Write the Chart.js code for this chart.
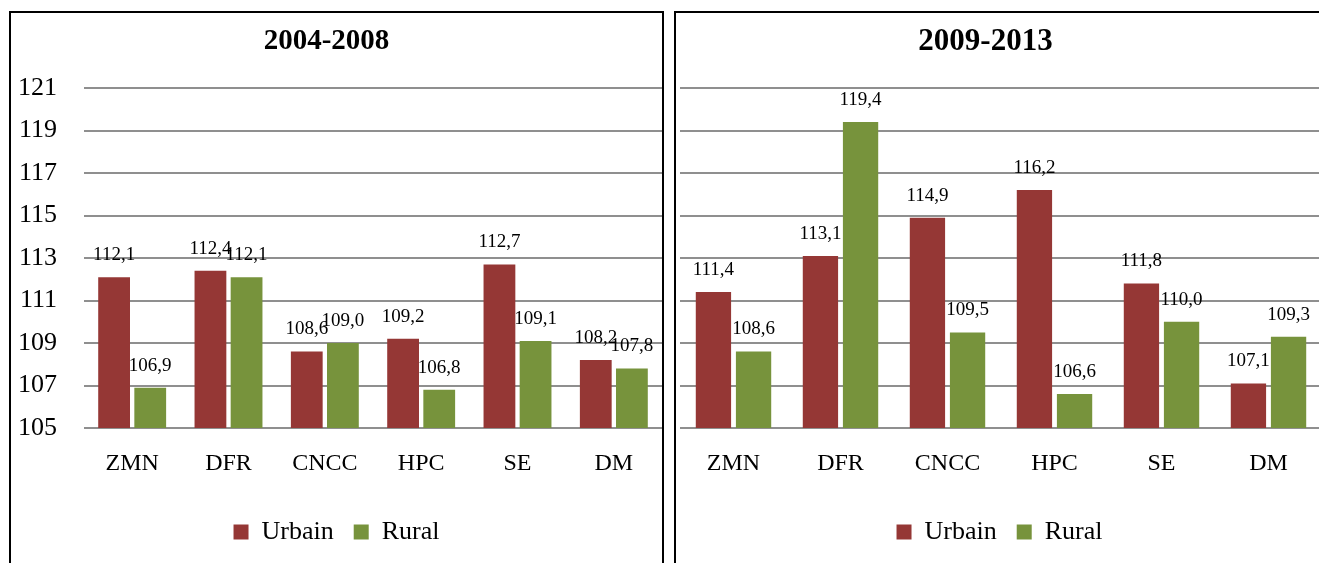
<!DOCTYPE html>
<html>
<head>
<meta charset="utf-8">
<script src="https://cdn.jsdelivr.net/npm/chart.js@4/dist/chart.umd.min.js"></script>
<style>
  html, body { margin: 0; padding: 0; background: #fff; overflow: hidden; width: 1319px; height: 563px; }
  .panel { position: absolute; border: 2px solid #000; box-sizing: border-box; background: #fff; }
  canvas { position: absolute; }
</style>
</head>
<body>
<div class="panel" style="left:9px; top:11px; width:655px; height:620px;"></div>
<div class="panel" style="left:674px; top:11px; width:720px; height:620px;"></div>
<canvas id="left" width="651" height="541" style="left:11px; top:14px;"></canvas>
<canvas id="right" width="660" height="541" style="left:677px; top:14px;"></canvas>
<script>
var categories = ['ZMN', 'DFR', 'CNCC', 'HPC', 'SE', 'DM'];
var yTicks = [105, 107, 109, 111, 113, 115, 117, 119, 121];
var urbain0408 = [112.1, 112.4, 108.6, 109.2, 112.7, 108.2];
var rural0408 = [106.9, 112.1, 109.0, 106.8, 109.1, 107.8];
var urbain0913 = [111.4, 113.1, 114.9, 116.2, 111.8, 107.1];
var rural0913 = [108.6, 119.4, 109.5, 106.6, 110.0, 109.3];

var red = '#953735';
var green = '#77933C';
var serif = '"Liberation Serif", "Times New Roman", serif';

// value labels above the bars, with a decimal comma
var valueLabels = {
  id: 'valueLabels',
  afterDatasetsDraw: function(chart) {
    var ctx = chart.ctx;
    ctx.save();
    ctx.font = '19px ' + serif;
    ctx.fillStyle = '#000';
    ctx.textAlign = 'center';
    ctx.textBaseline = 'middle';
    chart.data.datasets.forEach(function(ds, i) {
      chart.getDatasetMeta(i).data.forEach(function(bar, j) {
        ctx.fillText(ds.data[j].toFixed(1).replace('.', ','), bar.x, bar.y - 22);
      });
    });
    ctx.restore();
  }
};

// nudge the title sideways
var titleShift = {
  id: 'titleShift',
  afterLayout: function(chart, args, opts) {
    if (chart.titleBlock && opts.dx) {
      chart.titleBlock.left += opts.dx;
      chart.titleBlock.right += opts.dx;
    }
  }
};

function makeChart(id, title, titleSize, urb, rur, showTicks, yWidth, padRight, dx) {
  var ctx = document.getElementById(id).getContext('2d');
  var ptop = (28 - titleSize * 0.6);
  return new Chart(ctx, {
    type: 'bar',
    data: {
      labels: categories,
      datasets: [
        { label: 'Urbain', data: urb, backgroundColor: red, categoryPercentage: 0.75, barPercentage: 0.88 },
        { label: 'Rural', data: rur, backgroundColor: green, categoryPercentage: 0.75, barPercentage: 0.88 }
      ]
    },
    plugins: [valueLabels, titleShift],
    options: {
      responsive: false,
      animation: false,
      layout: { padding: { left: 0, right: padRight, top: 0, bottom: 0 } },
      plugins: {
        title: {
          display: true,
          text: title,
          color: '#000',
          font: { family: serif, size: titleSize, weight: 'bold' },
          padding: { top: ptop, bottom: 74 - ptop - titleSize * 1.2 }
        },
        legend: {
          position: 'bottom',
          labels: {
            color: '#000',
            font: { family: serif, size: 26 },
            boxWidth: 15,
            boxHeight: 15,
            padding: 20
          }
        },
        tooltip: { enabled: false },
        titleShift: { dx: dx }
      },
      scales: {
        x: {
          grid: { display: false },
          border: { display: false },
          ticks: { color: '#000', font: { family: serif, size: 24 }, padding: 13 },
          afterFit: function(scale) {
            var lh = scale.chart.legend ? scale.chart.legend.height : 66;
            scale.height = scale.chart.height - 74 - 340 - lh;
          }
        },
        y: {
          min: yTicks[0],
          max: yTicks[yTicks.length - 1],
          afterBuildTicks: function(scale) {
            scale.ticks = yTicks.map(function(v) { return { value: v }; });
          },
          grid: { color: '#8f8f8f', lineWidth: 2, drawTicks: false },
          border: { display: false },
          ticks: { display: showTicks, color: '#000', font: { family: serif, size: 26 }, padding: 27 },
          afterFit: function(scale) { scale.width = yWidth; }
        }
      }
    }
  });
}

makeChart('left', '2004-2008', 29, urbain0408, rural0408, true, 73, 0, -10);
makeChart('right', '2009-2013', 31, urbain0913, rural0913, false, 3, 15, -14);
</script>
</body>
</html>
